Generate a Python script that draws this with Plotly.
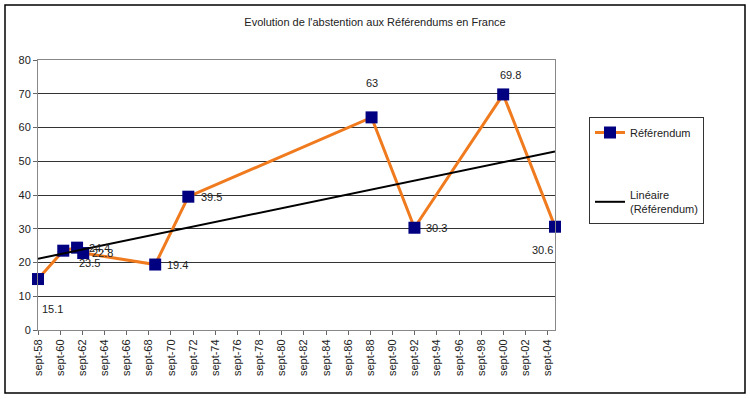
import numpy as np
import pandas as pd
import plotly.graph_objects as go

# ---- data ----
dates = ["1958-09-28", "1961-01-08", "1962-04-08", "1962-10-28", "1969-04-27",
         "1972-04-23", "1988-11-06", "1992-09-20", "2000-09-24", "2005-05-29"]
abstention = [15.1, 23.5, 24.4, 22.8, 19.4, 39.5, 63, 30.3, 69.8, 30.6]
tick_labels = ["sept-58", "sept-60", "sept-62", "sept-64", "sept-66", "sept-68",
               "sept-70", "sept-72", "sept-74", "sept-76", "sept-78", "sept-80",
               "sept-82", "sept-84", "sept-86", "sept-88", "sept-90", "sept-92",
               "sept-94", "sept-96", "sept-98", "sept-00", "sept-02", "sept-04"]
y_ticks = [0, 10, 20, 30, 40, 50, 60, 70, 80]
# label offsets (px) for data labels
label_dx = [14, 26, 22, 19, 22, 23, 0, 22, 7, -13]
label_dy = [30, 12, 0, 0, 0, 0, -34, 0, -19, 23]

dt = pd.to_datetime(dates)
tickvals = [dt[0] + pd.DateOffset(months=24 * i) for i in range(len(tick_labels))]

# linear trend (Excel "Linéaire") on date values
days = np.array([(d - dt[0]).days for d in dt], dtype=float)
slope, intercept = np.polyfit(days, abstention, 1)
trend_x = [dt[0], dt[-1]]
trend_y = [intercept, intercept + slope * days[-1]]

FONT = "Liberation Sans, Arial, sans-serif"

fig = go.Figure()
fig.add_trace(go.Scatter(
    x=dt, y=abstention, mode="lines+markers", name="Référendum",
    line=dict(color="#F07A1E", width=3),
    marker=dict(symbol="square", size=12, color="#000080"),
    cliponaxis=False, legendgroup="a",
))
fig.add_trace(go.Scatter(
    x=trend_x, y=trend_y, mode="lines", name="Linéaire<br>(Référendum)",
    line=dict(color="black", width=2), legendgroup="b",
))

for d, v, dx, dy in zip(dt, abstention, label_dx, label_dy):
    fig.add_annotation(x=d, y=v, text=f"{v:g}", showarrow=False,
                       xshift=dx, yshift=-dy,
                       font=dict(family=FONT, size=11, color="#222"))

fig.update_layout(
    width=750, height=399,
    margin=dict(l=38, r=195, t=60, b=69),
    paper_bgcolor="white", plot_bgcolor="white",
    font=dict(family=FONT, size=11, color="#222"),
    title=dict(text="Evolution de l'abstention aux Référendums en France",
               x=0.5, xref="container", xanchor="center", y=1 - 22 / 399, yanchor="middle",
               font=dict(family=FONT, size=11, color="#222")),
    showlegend=True,
    legend=dict(x=(589 - 38) / 517, y=(330 - 117) / 270, xanchor="left", yanchor="top",
                bordercolor="#333", borderwidth=1, bgcolor="white",
                font=dict(family=FONT, size=11, color="#222"),
                tracegroupgap=44, itemwidth=30),
    xaxis=dict(range=[dt[0], dt[-1]], tickmode="array", tickvals=tickvals,
               ticktext=tick_labels, tickangle=-90, ticks="outside", ticklen=4,
               tickcolor="#666", showgrid=False, showline=True, linecolor="#888",
               mirror=True, zeroline=False,
               tickfont=dict(family=FONT, size=11, color="#222")),
    yaxis=dict(range=[0, 80], tickmode="array", tickvals=y_ticks, ticks="outside",
               ticklen=4, tickcolor="#666", showgrid=True, gridcolor="#333",
               gridwidth=1, showline=True, linecolor="#888", mirror=True,
               zeroline=False, tickfont=dict(family=FONT, size=11, color="#222")),
)

# outer chart border
fig.add_shape(type="rect", xref="paper", yref="paper",
              x0=(5 - 38) / 517, x1=(745 - 38) / 517,
              y0=(330 - 393) / 270, y1=(330 - 5) / 270,
              line=dict(color="black", width=1.5), layer="below")

fig.write_html("out.html", config={"displayModeBar": False},
               post_script="document.body.style.margin='0px';")
